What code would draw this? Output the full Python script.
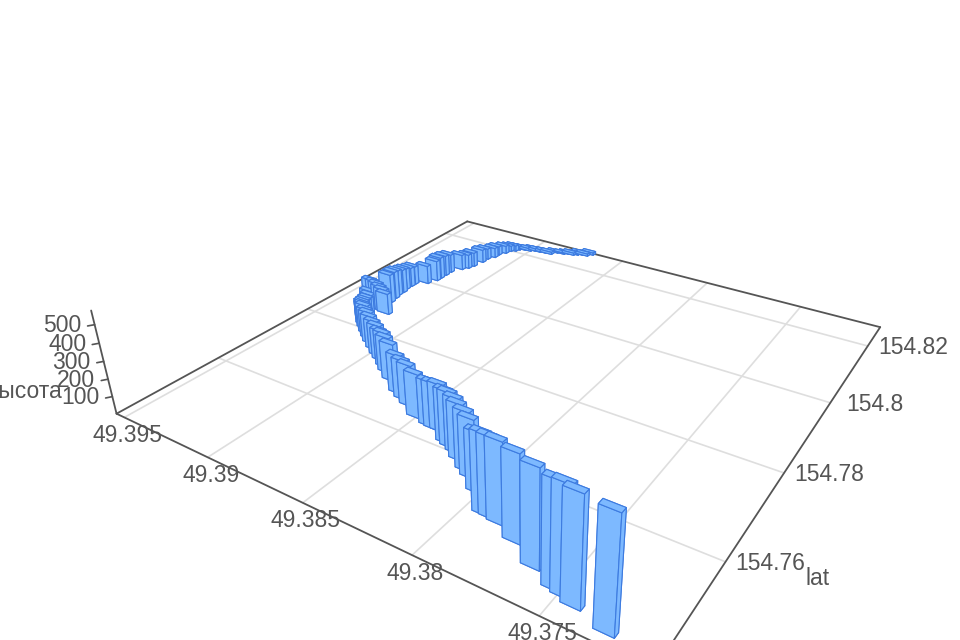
import numpy as np, seaborn as sns, matplotlib
matplotlib.use('Agg')
import matplotlib.pyplot as plt

# values
lng = [49.3730,49.3744,49.3749,49.3753,49.3764,49.3776,49.3786,49.3790,49.3793,
       49.3802,49.3809,49.3813,49.3819,49.3823,49.3827,49.3830,49.3837,49.3840,
       49.3843,49.3851,49.3859,49.3864,49.3869,49.3878,49.3884,49.3888,49.3893,
       49.3897,49.3902,49.3907,49.3911,49.3915,49.3919,49.3922,49.3925,49.3927,
       49.3929,49.3931,49.3934,49.3936,49.3931,49.3927,49.3923,49.3921,49.3939,
       49.3928,49.3929,49.3930,49.3930,49.3931,49.3931,49.3931,49.3926,49.3924,
       49.3924,49.3924,49.3924,49.3921,49.3919,49.3918,49.3917,49.3917,49.3915,
       49.3915,49.3913,49.3912,49.3910,49.3909,49.3906,49.3903,49.3901,49.3898,
       49.3894,49.3891,49.3889,49.3885,49.3883,49.3880,49.3878,49.3876,49.3873,
       49.3871]
lat = [154.7432,154.7446,154.7453,154.7457,154.7474,154.7499,154.7516,154.7519,154.7520,
       154.7551,154.7571,154.7580,154.7594,154.7605,154.7611,154.7616,154.7634,154.7634,
       154.7636,154.7643,154.7661,154.7670,154.7679,154.7701,154.7716,154.7727,154.7739,
       154.7748,154.7760,154.7772,154.7783,154.7794,154.7806,154.7815,154.7826,154.7838,
       154.7851,154.7864,154.7875,154.7899,154.7887,154.7878,154.7869,154.7866,154.7901,
       154.7904,154.7920,154.7933,154.7946,154.7959,154.7973,154.7984,154.7999,154.8018,
       154.8030,154.8045,154.8061,154.8082,154.8093,154.8106,154.8130,154.8147,154.8161,
       154.8175,154.8189,154.8202,154.8208,154.8217,154.8222,154.8224,154.8229,154.8230,
       154.8232,154.8233,154.8245,154.8247,154.8252,154.8253,154.8258,154.8263,154.8264,
       154.8274]
height = [576,550,545,530,502,455,428,420,421,
          323,322,324,311,303,305,295,266,261,
          256,253,239,229,225,222,213,208,185,
          187,176,171,166,154,149,137,125,112,
          100,94,94,115,134,140,146,132,115,
          181,175,163,150,137,124,118,118,132,
          140,133,120,100,93,93,86,72,65,
          58,51,37,37,22,15,15,15,15,
          15,15,7,7,7,15,7,15,15,
          15]
x_ticks = [49.395,49.39,49.385,49.38,49.375]
x_labels = ['49.395','49.39','49.385','49.38','49.375']
lat_ticks = [154.76,154.78,154.80,154.82]
lat_labels = ['154.76','154.78','154.8','154.82']
z_ticks = [100,200,300,400,500]
z_labels = ['100','200','300','400','500']

sns.set_theme(style='white')
plt.rcParams['font.family'] = ['Liberation Sans', 'DejaVu Sans']
GREY = '#555555'; GRID = '#dedede'; BAR = '#7db9ff'; EDGE = '#3d7be0'
XMAX, XMIN = 49.3955, 49.3711
LMIN, LMAX = 154.7411, 154.8276
ZMAX = 575

fig = plt.figure(figsize=(9.6, 6.4), dpi=100)
ax = fig.add_subplot(projection='3d')
ax.set_xlim(XMAX, XMIN); ax.set_ylim(LMIN, LMAX); ax.set_zlim(0, ZMAX)
ax.view_init(28.3283, -57.2338)
ax.set_proj_type('persp', focal_length=0.2248)
ax.set_box_aspect((1, 1.0033, 0.1962))
S, CX, CY = 4230.1492, 527.6898, 319.7258
vl = ax.viewLim
ax.set_position([(CX + vl.x0*S)/960, (640 - CY + vl.y0*S)/640, S*vl.width/960, S*vl.height/640])
ax.set_axis_off()
ax.computed_zorder = False
M = ax.get_proj()

def to2d(x, y, z):
    v = M @ np.array([x, y, z, 1.0])
    return v[0]/v[3], v[1]/v[3]

def label(s, x, y, z, off, **kw):
    ax.annotate(s, xy=to2d(x, y, z), xycoords='data', xytext=off, textcoords='offset pixels',
                ha='center', va='center', color=GREY, fontsize=16.5, annotation_clip=False, **kw)

for t in x_ticks:
    ax.plot([t, t], [LMIN, LMAX], [0, 0], color=GRID, lw=1.2, zorder=1, clip_on=False)
for t in lat_ticks:
    ax.plot([XMAX, XMIN], [t, t], [0, 0], color=GRID, lw=1.2, zorder=1, clip_on=False)
for a, b in [((XMAX, LMIN), (XMIN, LMIN)), ((XMIN, LMIN), (XMIN, LMAX)),
             ((XMIN, LMAX), (XMAX, LMAX)), ((XMAX, LMAX), (XMAX, LMIN))]:
    ax.plot([a[0], b[0]], [a[1], b[1]], [0, 0], color=GREY, lw=1.3, zorder=2, clip_on=False)
ax.plot([XMAX, XMAX], [LMIN, LMIN], [0, ZMAX], color=GREY, lw=1.3, zorder=2, clip_on=False)
for t in z_ticks:
    ax.plot([XMAX, XMAX+0.00014], [LMIN, LMIN-0.00075], [t, t], color=GREY, lw=1.2, zorder=2, clip_on=False)

for t, s in zip(x_ticks, x_labels):
    label(s, t, LMIN, 0, (3, -18))
for t, s in zip(lat_ticks, lat_labels):
    label(s, XMIN, t, 0, (45, -2))
for t, s in zip(z_ticks, z_labels):
    label(s, XMAX, LMIN, t, (-32, -1))
label('высота', XMAX, LMIN, 0, (-92, 22))
label('lat', XMIN, 154.76, 0, (92, -17))

dx, dy = 0.00074, 0.00095
L, A, H = map(np.array, (lng, lat, height))
v = M @ np.vstack([L, A, np.zeros(len(L)), np.ones(len(L))])
order = np.argsort(-v[2]/v[3])
for r, i in enumerate(order):
    c = ax.bar3d(L[i]-dx/2, A[i]-dy/2, 0, dx, dy, H[i], color=BAR, edgecolor=EDGE, linewidth=0.8, shade=False)
    c.set_zorder(10 + r)
fig.savefig('out.png', dpi=100)
